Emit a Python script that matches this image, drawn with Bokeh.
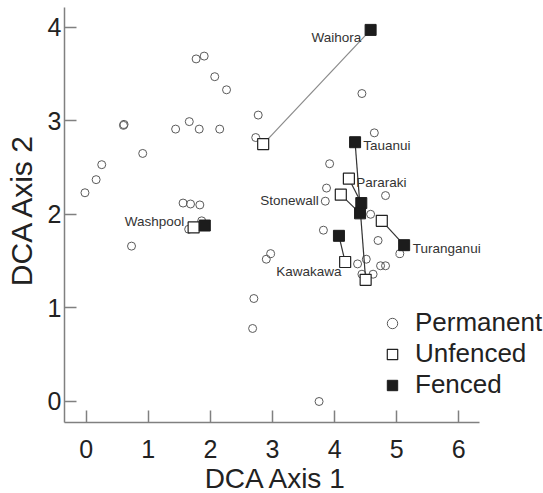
import math
from bokeh.plotting import figure
from bokeh.models import Range1d, Legend, LegendItem, FixedTicker, ColumnDataSource, Label
from bokeh.embed import file_html
from bokeh.resources import INLINE
from bokeh.core.properties import value

# Permanent sites (DCA axis 1, axis 2)
perm_x = [1.77, 1.90, 2.07, 2.26, 2.77, 0.60, 0.61, 1.44, 1.66, 1.82, 2.15, 2.73,
          0.91, 0.25, 0.16, -0.02, 1.56, 1.68, 1.83, 1.86, 1.65, 0.73, 2.97, 2.90,
          2.70, 2.68, 3.75, 4.44, 4.64, 3.92, 3.87, 4.82, 3.85, 4.58, 3.82, 4.70,
          5.05, 4.37, 4.51, 4.44, 4.62, 4.74, 4.82]
perm_y = [3.66, 3.69, 3.47, 3.33, 3.06, 2.95, 2.96, 2.91, 2.99, 2.91, 2.91, 2.82,
          2.65, 2.53, 2.37, 2.23, 2.12, 2.11, 2.10, 1.93, 1.84, 1.66, 1.58, 1.52,
          1.10, 0.78, 0.00, 3.29, 2.87, 2.54, 2.28, 2.20, 2.14, 2.00, 1.83, 1.72,
          1.58, 1.47, 1.52, 1.36, 1.36, 1.45, 1.45]

# Paired sites
sites = ["Waihora", "Tauanui", "Pararaki", "Stonewall", "Turanganui", "Kawakawa", "Washpool"]
unf_x = [2.85, 4.50, 4.23, 4.10, 4.76, 4.17, 1.73]
unf_y = [2.75, 1.30, 2.38, 2.21, 1.93, 1.49, 1.86]
fen_x = [4.58, 4.33, 4.43, 4.41, 5.12, 4.07, 1.91]
fen_y = [3.97, 2.77, 2.12, 2.01, 1.67, 1.77, 1.88]

# Site label anchors (data units) and alignment
label_x = [4.43, 4.46, 4.35, 3.745, 5.26, 4.11, 1.58]
label_y = [3.89, 2.74, 2.34, 2.15, 1.63, 1.39, 1.92]
label_align = ["right", "left", "left", "right", "left", "right", "right"]

x_ticks = [0, 1, 2, 3, 4, 5, 6]
y_ticks = [0, 1, 2, 3, 4]
x_axis_bounds = (-0.349, 6.333)
y_axis_bounds = (-0.221, 4.21)
x_title_pos = (3.06, -0.823)
y_title_pos = (-1.042, 2.051)
legend_labels = ["Permanent", "Unfenced", "Fenced"]

FONT = "Liberation Sans"

p = figure(width=543, height=493, output_backend="svg", toolbar_location=None,
           x_range=Range1d(-1.380, 7.364), y_range=Range1d(-0.983, 4.284),
           min_border_left=0, min_border_right=0, min_border_top=0,
           min_border_bottom=0)
p.grid.visible = False
p.outline_line_color = None
p.background_fill_color = "white"

p.xaxis.ticker = FixedTicker(ticks=x_ticks)
p.yaxis.ticker = FixedTicker(ticks=y_ticks)
p.xaxis.bounds = x_axis_bounds
p.yaxis.bounds = y_axis_bounds
p.xaxis.fixed_location = y_axis_bounds[0]
p.yaxis.fixed_location = x_axis_bounds[0]
for ax in (p.xaxis[0], p.yaxis[0]):
    ax.axis_line_color = "#808080"
    ax.axis_line_width = 1.5
    ax.major_tick_line_color = "#808080"
    ax.major_tick_line_width = 1.5
    ax.major_tick_in = 12
    ax.major_tick_out = 0
    ax.minor_tick_line_color = None
    ax.major_label_text_font = FONT
    ax.major_label_text_font_size = "25px"
    ax.major_label_text_color = "#222222"
p.xaxis.major_label_standoff = 18
p.yaxis.major_label_standoff = 3

# axis titles
p.add_layout(Label(x=x_title_pos[0], y=x_title_pos[1], text="DCA Axis 1",
                   text_align="center", text_baseline="middle",
                   text_font=FONT, text_font_size="28px", text_color="#222222"))
p.add_layout(Label(x=y_title_pos[0], y=y_title_pos[1], text="DCA Axis 2", angle=math.pi / 2,
                   text_align="center", text_baseline="middle",
                   text_font=FONT, text_font_size="30px", text_color="#222222"))

# Permanent circles
r_perm = p.scatter(perm_x, perm_y, marker="circle", size=8, fill_color=None,
                   line_color="#5a5a5a", line_width=1)

# Connecting segments
seg_color = ["#8a8a8a" if s == "Waihora" else "#333333" for s in sites]
seg_src = ColumnDataSource(dict(x0=unf_x, y0=unf_y, x1=fen_x, y1=fen_y, c=seg_color))
p.segment(x0="x0", y0="y0", x1="x1", y1="y1", line_color="c", line_width=1.2, source=seg_src)

r_unf = p.scatter(unf_x, unf_y, marker="square", size=11, fill_color="white",
                  line_color="#222222", line_width=1.2)
r_fen = p.scatter(fen_x, fen_y, marker="square", size=11, fill_color="#1c1c1c",
                  line_color="#1c1c1c", line_width=1)

# Site labels
for align in ("left", "right"):
    idx = [i for i, a in enumerate(label_align) if a == align]
    src = ColumnDataSource(dict(x=[label_x[i] for i in idx], y=[label_y[i] for i in idx],
                                t=[sites[i] for i in idx]))
    p.text(x="x", y="y", text="t", source=src, text_align=align, text_baseline="middle",
           text_font=value(FONT), text_font_size="13.5px", text_color="#333333")

legend = Legend(items=[LegendItem(label=t, renderers=[r])
                       for t, r in zip(legend_labels, (r_perm, r_unf, r_fen))],
                location=(378, 93), orientation="vertical",
                glyph_width=28, glyph_height=26, label_height=26, spacing=0,
                label_standoff=9, padding=0, margin=0,
                border_line_color=None, background_fill_alpha=0,
                label_text_font=FONT, label_text_font_size="26px",
                label_text_color="#222222")
p.add_layout(legend)

open("out.html", "w").write(file_html(p, INLINE))
